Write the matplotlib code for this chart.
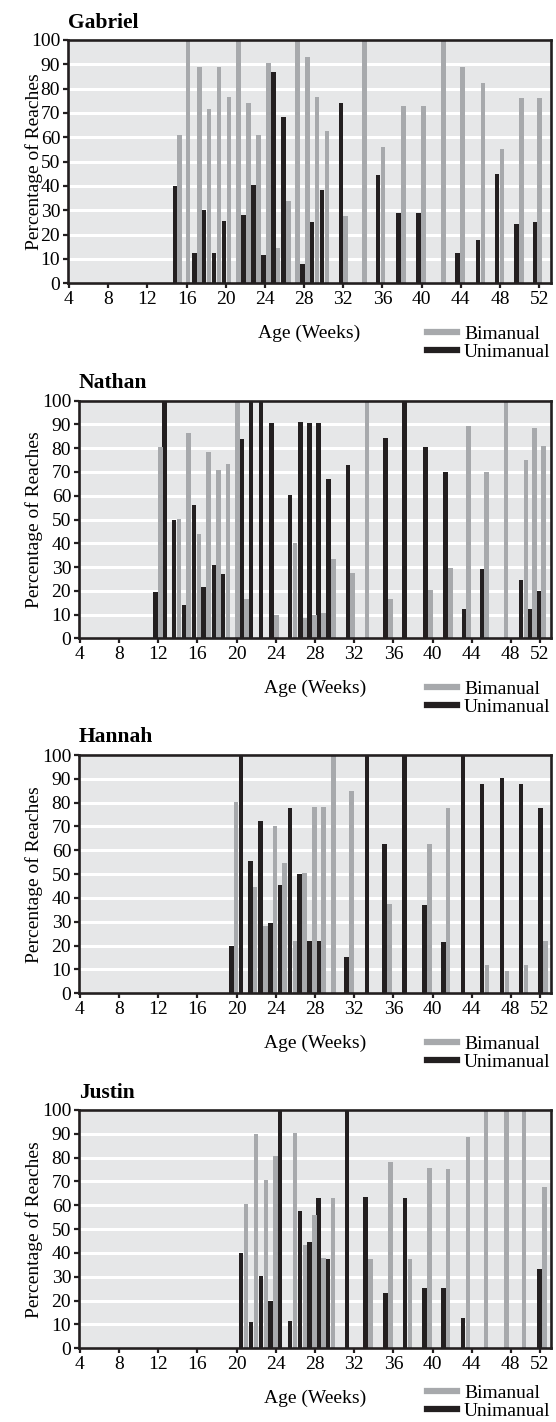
import numpy as np
import matplotlib
matplotlib.use('Agg')
import matplotlib.pyplot as plt
from matplotlib.lines import Line2D
from matplotlib.transforms import blended_transform_factory

plt.rcParams['font.family'] = ['Liberation Serif', 'DejaVu Serif']

# session ages (weeks) and percentage of reaches for each infant
gabriel_age = [15.05, 15.9, 17.05, 18.05, 19.05, 20.07, 21.05, 22.06, 23.07, 24.1, 25.1, 26.15, 27.1, 28.1,
               29.05, 30.1, 32.0, 33.9, 35.8, 37.9, 39.95, 42.0, 43.9, 46.0, 47.95, 49.95, 51.8]
gabriel_uni = [40, 0, 12.5, 30, 12.5, 25.5, 0, 28, 40.5, 11.5, 87, 68.5, 0, 8,
               25, 38.5, 74, 0, 44.5, 29, 29, 0, 12.5, 18, 45, 24.5, 25]
gabriel_bi = [61, 100, 89, 71.5, 89, 76.5, 100, 74, 61, 90.5, 14.5, 34, 100, 93,
              76.5, 62.5, 27.5, 100, 56, 73, 73, 100, 89, 82.5, 55, 76, 76]

nathan_age = [11.95, 12.9, 13.85, 14.85, 15.9, 16.87, 17.92, 18.87, 19.82, 20.75, 21.7, 22.75, 23.8, 25.7,
              26.75, 27.7, 28.6, 29.63, 31.6, 33.05, 35.47, 37.4, 39.55, 41.58, 43.45, 45.28, 47.25, 49.3,
              50.15, 51.1]
nathan_uni = [19.4, 100, 49.8, 13.9, 56, 21.5, 30.8, 27.1, 0, 83.9, 100, 100, 90.6, 60.3,
              91, 90.6, 90.6, 67, 72.9, 0, 84.2, 100, 80.5, 69.9, 12.3, 29.2, 0, 24.5,
              12.3, 19.9]
nathan_bi = [80.5, 0, 50.2, 86.4, 44, 78.4, 70.8, 73.4, 100, 16.5, 0, 0, 9.8, 40,
             8.6, 9.8, 10.7, 33.4, 27.5, 100, 16.5, 0, 20.3, 29.6, 89.3, 70, 100, 75.2,
             88.5, 80.9]

hannah_age = [19.7, 20.7, 21.64, 22.67, 23.68, 24.66, 25.7, 26.68, 27.68, 28.6, 29.64, 31.47, 33.55, 35.35,
              37.4, 39.42, 41.35, 43.38, 45.29, 47.35, 49.3, 51.29]
hannah_uni = [19.9, 100, 55.5, 72.3, 29.5, 45.5, 77.8, 50.1, 22, 22, 0, 15.2, 100, 62.7,
              100, 37.1, 21.5, 100, 87.8, 90.3, 87.8, 77.8]
hannah_bi = [80.3, 0, 44.6, 28.3, 70.2, 54.7, 22, 50.5, 78.2, 78.2, 100, 84.9, 0, 37.5,
             0, 62.7, 77.8, 0, 11.9, 9.4, 11.9, 22]

justin_age = [20.7, 21.7, 22.75, 23.7, 24.7, 25.7, 26.72, 27.68, 28.6, 29.6, 31.5, 33.42, 35.47, 37.43,
              39.42, 41.35, 43.38, 45.2, 47.28, 49.1, 51.2]
justin_uni = [39.9, 10.9, 30.3, 19.9, 100, 11.5, 57.6, 44.6, 63.1, 37.5, 100, 63.5, 23.2, 63.1,
              25.3, 25.3, 12.7, 0, 0, 0, 33.3]
justin_bi = [60.6, 89.9, 70.6, 80.7, 0, 90.3, 43.4, 55.9, 37.9, 63.1, 0, 37.5, 78.2, 37.5,
             75.7, 75.2, 88.7, 100, 100, 100, 67.7]

names = ['Gabriel', 'Nathan', 'Hannah', 'Justin']
week_labels = ['4', '8', '12', '16', '20', '24', '28', '32', '36', '40', '44', '48', '52']

BLACK = '#231f20'
GRAY = '#a7a9ac'
BG = '#e6e7e8'
W, H = 556, 1422


def draw_panel(ax, name, age, uni, bi, xmax, last_tick, legend_drop):
    age = np.array(age)
    ax.set_facecolor(BG)
    ax.bar(age - 0.25, uni, width=0.46, color=BLACK, linewidth=0, zorder=2)
    ax.bar(age + 0.25, bi, width=0.46, color=GRAY, linewidth=0, zorder=2)

    ax.set_xlim(3.9, xmax)
    ax.set_ylim(0, 100)
    ax.set_xticks(list(range(4, 49, 4)) + [last_tick])
    ax.set_xticklabels(week_labels)
    ax.set_yticks(range(0, 101, 10))

    #white horizontal guide lines
    ax.yaxis.grid(True, color='white', linewidth=2.2)
    ax.set_axisbelow(True)

    for side in ['top', 'right', 'bottom', 'left']:
        ax.spines[side].set_linewidth(1.9)
        ax.spines[side].set_color(BLACK)
        ax.spines[side].set_zorder(5)
    ax.tick_params(direction='out', length=3.6, width=1.6, color=BLACK, labelsize=14, pad=2)

    ax.set_title(name, loc='left', fontsize=15.5, fontweight='bold', pad=9)
    ax.set_xlabel('Age (Weeks)', fontsize=14, labelpad=12)
    ax.set_ylabel('Percentage of Reaches', fontsize=14)
    ax.yaxis.set_label_coords(43 / W, 0.5, transform=blended_transform_factory(fig.transFigure, ax.transAxes))

    handles = [Line2D([], [], color=GRAY, linewidth=4.5), Line2D([], [], color=BLACK, linewidth=4.5)]
    bottom = ax.get_position().y0
    ax.legend(handles, ['Bimanual', 'Unimanual'], loc='upper left',
              bbox_to_anchor=(427 / W, bottom - legend_drop / H), bbox_transform=fig.transFigure,
              frameon=False, borderpad=0, borderaxespad=0, handlelength=1.55,
              handletextpad=0.36, labelspacing=0.04, fontsize=14)


if __name__ == '__main__':

    fig = plt.figure(figsize=(W / 100, H / 100), dpi=100)

    #axes boxes in pixels: left, right, top, bottom
    boxes = [(68, 551, 40, 283.3), (79, 551, 400.7, 638.3), (79, 551, 755, 993.3), (79, 551, 1110, 1348.3)]
    data = [(gabriel_age, gabriel_uni, gabriel_bi), (nathan_age, nathan_uni, nathan_bi),
            (hannah_age, hannah_uni, hannah_bi), (justin_age, justin_uni, justin_bi)]

    for i in range(4):
        l, r, t, b = boxes[i]
        ax = fig.add_axes([l / W, 1 - b / H, (r - l) / W, (b - t) / H])
        #last panel's legend sits a little higher so it stays inside the figure
        drop = 42 if i < 3 else 36
        if i == 0:
            draw_panel(ax, names[i], *data[i], xmax=53.2, last_tick=52, legend_drop=drop)
        else:
            draw_panel(ax, names[i], *data[i], xmax=52.1, last_tick=50.95, legend_drop=drop)

    fig.savefig('out.png', dpi=100)
